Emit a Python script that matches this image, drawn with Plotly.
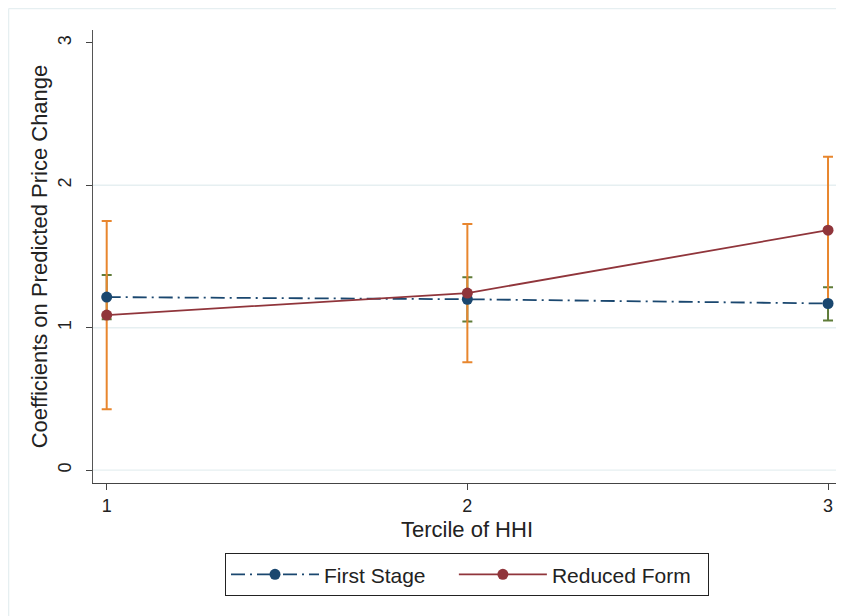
import plotly.graph_objects as go

# Data
terciles = [1, 2, 3]
tick_labels = ["1", "2", "3"]
fs_coef = [1.215, 1.200, 1.170]
fs_lo = [1.060, 1.043, 1.050]
fs_hi = [1.370, 1.355, 1.285]
rf_coef = [1.089, 1.243, 1.685]
rf_lo = [0.428, 0.757, 1.170]
rf_hi = [1.750, 1.729, 2.200]
y_ticks = [0, 1, 2, 3]
grid_vals = [0, 1, 2]
series_names = ["First Stage", "Reduced Form"]

NAVY = "#1a476f"
MAROON = "#90353b"
GREEN = "#5f7c39"
ORANGE = "#e8862e"
FONT = "Liberation Sans, Arial, sans-serif"
NB = "\u00a0"

fig = go.Figure()

# CI for first stage (green caps)
fig.add_trace(go.Scatter(
    x=terciles, y=fs_coef, mode="markers",
    marker=dict(size=1, opacity=0),
    error_y=dict(type="data", symmetric=False,
                 array=[h - c for h, c in zip(fs_hi, fs_coef)],
                 arrayminus=[c - l for c, l in zip(fs_coef, fs_lo)],
                 color=GREEN, thickness=2, width=5),
    showlegend=False, hoverinfo="skip"))

# CI for reduced form (orange)
fig.add_trace(go.Scatter(
    x=terciles, y=rf_coef, mode="markers",
    marker=dict(size=1, opacity=0),
    error_y=dict(type="data", symmetric=False,
                 array=[h - c for h, c in zip(rf_hi, rf_coef)],
                 arrayminus=[c - l for c, l in zip(rf_coef, rf_lo)],
                 color=ORANGE, thickness=2, width=5),
    showlegend=False, hoverinfo="skip"))

fig.add_trace(go.Scatter(
    x=terciles, y=fs_coef, mode="lines+markers", name=series_names[0] + NB * 4,
    line=dict(color=NAVY, width=1.8, dash="14px,5px,2px,5px"),
    marker=dict(color=NAVY, size=11)))

fig.add_trace(go.Scatter(
    x=terciles, y=rf_coef, mode="lines+markers", name=series_names[1] + NB * 2,
    line=dict(color=MAROON, width=1.8),
    marker=dict(color=MAROON, size=11)))

# light grid lines
for g in grid_vals:
    fig.add_shape(type="line", xref="paper", yref="y", x0=0, x1=1, y0=g, y1=g,
                  line=dict(color="#e6eff1", width=1.3), layer="below")

# outer frame (top and left edges visible)
fig.add_shape(type="line", xref="paper", yref="paper", x0=-0.1128, x1=1.05,
              y0=1.0475, y1=1.0475, line=dict(color="#e6eff1", width=1.3))
fig.add_shape(type="line", xref="paper", yref="paper", x0=-0.1128, x1=-0.1128,
              y0=1.0475, y1=-0.4, line=dict(color="#e6eff1", width=1.3))

fig.update_layout(
    width=836, height=608,
    margin=dict(l=85, r=3, t=22, b=133),
    paper_bgcolor="white", plot_bgcolor="white",
    font=dict(family=FONT, size=18, color="#222222"),
    xaxis=dict(range=[0.962, 3.036], tickvals=terciles, ticktext=tick_labels,
               showgrid=False, zeroline=False, showline=True,
               linecolor="#444444", linewidth=1.4,
               ticks="outside", ticklen=6, tickwidth=1.3, tickcolor="#444444",
               title=dict(text="Tercile of HHI", standoff=6),
               tickfont=dict(size=18)),
    yaxis=dict(range=[-0.09, 3.09], tickvals=y_ticks,
               showgrid=False, zeroline=False, showline=True,
               linecolor="#555555", linewidth=1.4,
               ticks="outside", ticklen=6, tickwidth=1.3, tickcolor="#444444",
               tickangle=-90, ticklabelstandoff=8,
               title=dict(text="Coefficients on Predicted Price Change", standoff=0),
               tickfont=dict(size=18)),
    legend=dict(orientation="h", x=0.5, xanchor="center", y=-0.155, yanchor="top",
                bordercolor="#222222", borderwidth=1, font=dict(size=21),
                itemwidth=88),
)

fig.write_html("out.html")
